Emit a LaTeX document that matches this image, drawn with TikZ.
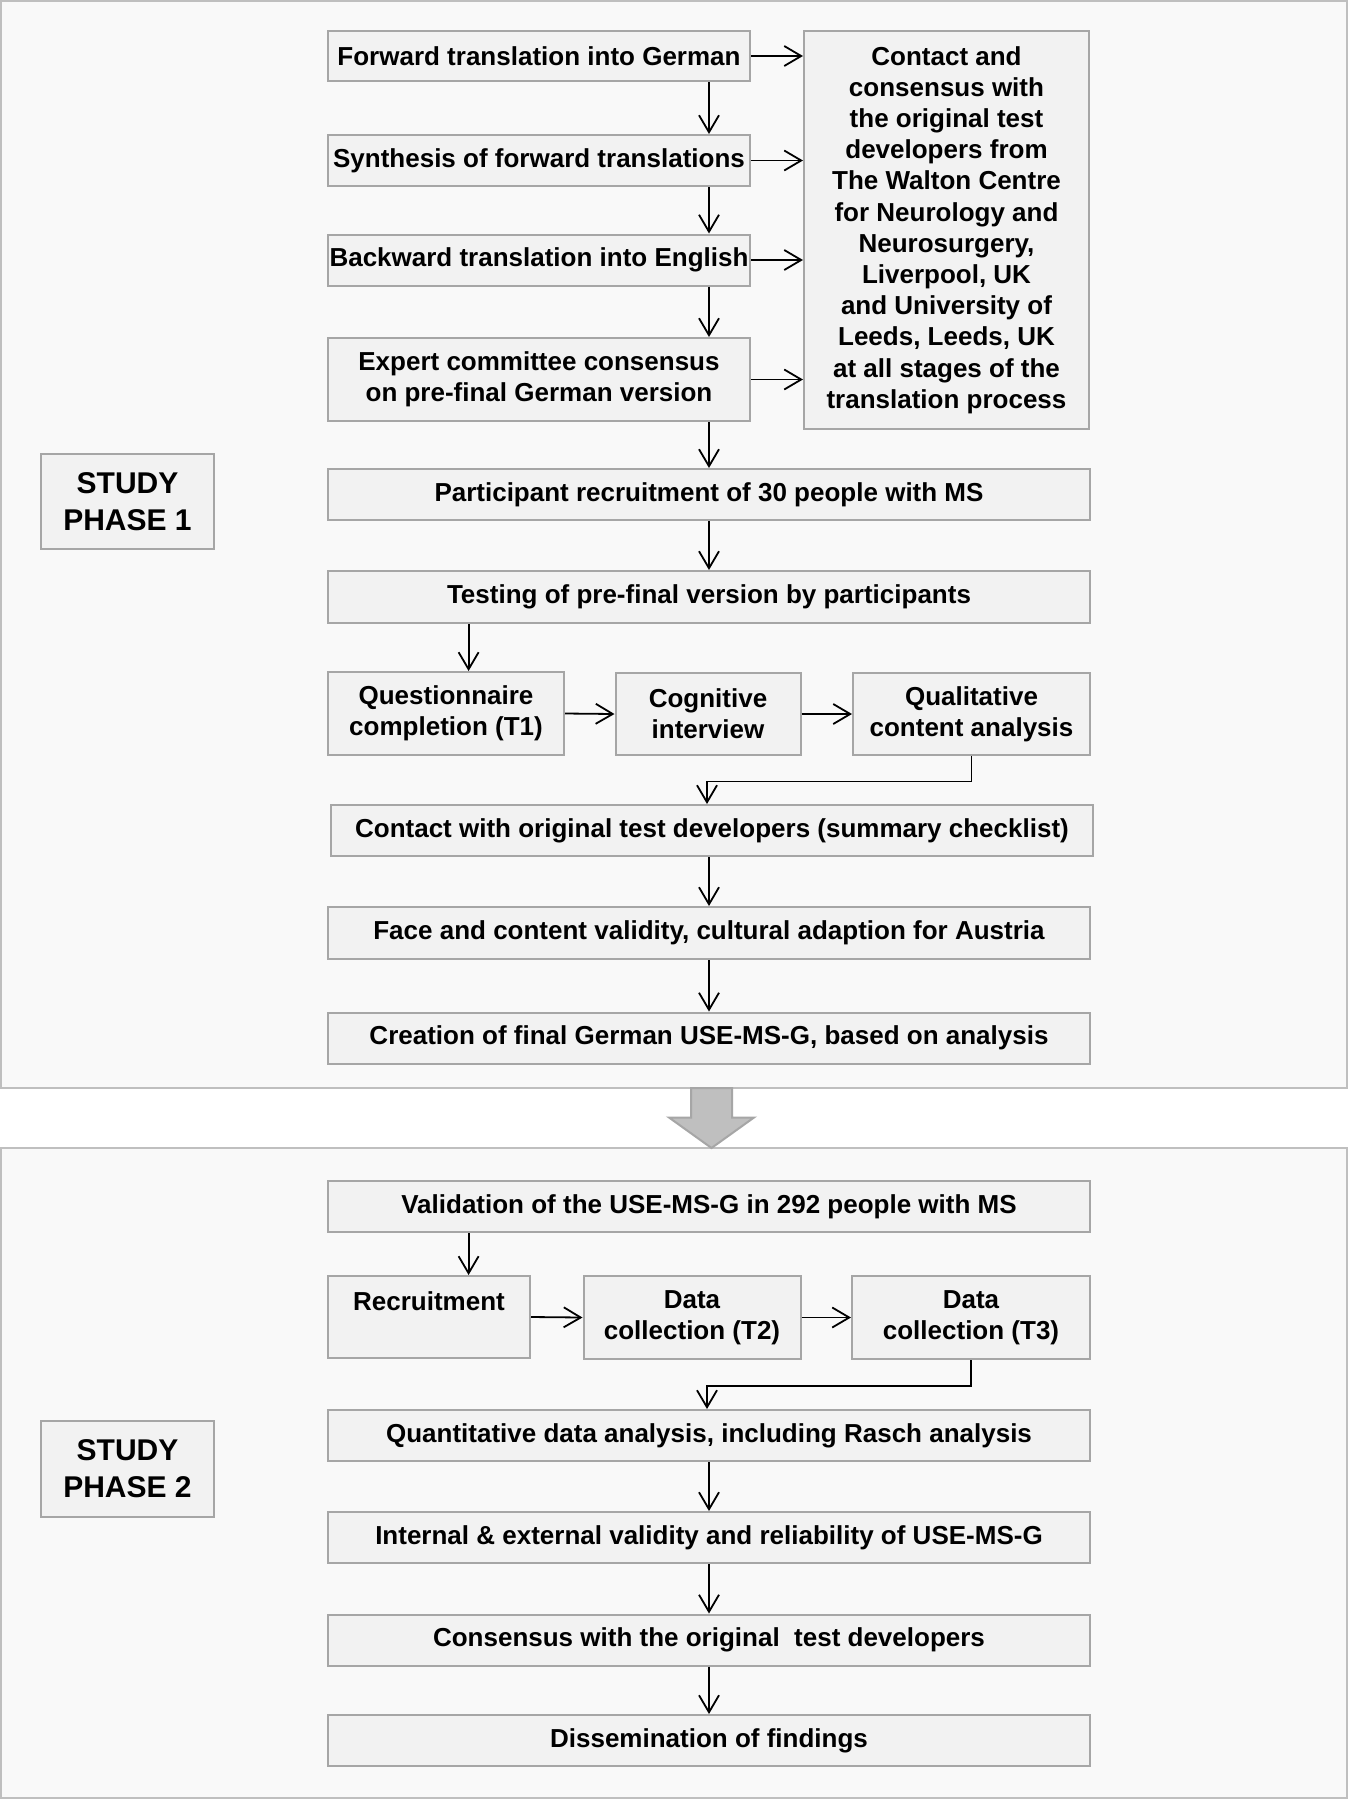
\documentclass[tikz,border=0pt]{standalone}
\usepackage{fontspec}
\setmainfont{Liberation Sans}
\usetikzlibrary{arrows.meta,calc}
\definecolor{panelfill}{HTML}{F9F9F9}
\definecolor{panelline}{HTML}{BFBFBF}
\definecolor{boxfill}{HTML}{F2F2F2}
\definecolor{boxline}{HTML}{A6A6A6}
\definecolor{bigarrow}{HTML}{BFBFBF}
\begin{document}
\begin{tikzpicture}[x=1pt,y=-1pt,
  panel/.style={draw=panelline,fill=panelfill,line width=2pt},
  stepbox/.style={draw=boxline,fill=boxfill,line width=2pt,inner sep=0pt,align=center,
    font=\fontsize{26}{31.2}\selectfont\bfseries},
  phasebox/.style={stepbox,font=\fontsize{30}{37}\selectfont\bfseries},
  arr/.style={draw=black,line width=1.8pt,-{Straight Barb[length=17pt,width=20pt,line width=1.8pt]}}]
\useasboundingbox[fill=white] (0,0) rectangle (1348,1800);
% panels
\draw[panel] (1,1) rectangle (1347,1088);
\draw[panel] (1,1148) rectangle (1347,1798);
% big arrow between panels
\draw[fill=bigarrow,draw=boxline,line width=2pt,line join=miter]
  (691,1088) -- (732,1088) -- (732,1117.5) -- (754,1117.5) -- (711.5,1148) -- (669,1117.5) -- (691,1117.5) -- cycle;
% phase 1
\node[stepbox,minimum width=422,minimum height=50] (fwd) at (539,56) {Forward translation into German};
\node[stepbox,minimum width=422,minimum height=51] (syn) at (539,160.5) {Synthesis of forward translations};
\node[stepbox,minimum width=422,minimum height=51] (back) at (539,260) {Backward translation into English};
\node[stepbox,minimum width=422,minimum height=83] (exp) at (539,379.5) {Expert committee consensus\\on pre-final German version};
\node[stepbox,minimum width=285,minimum height=398] (cont) at (946.5,230) {Contact and\\consensus with\\the original test\\developers from\\The Walton Centre\\for Neurology and\\Neurosurgery,\\Liverpool, UK\\and University of\\Leeds, Leeds, UK\\at all stages of the\\translation process};
\node[phasebox,minimum width=173,minimum height=95] (ph1) at (127.5,501.5) {STUDY\\PHASE 1};
\node[stepbox,minimum width=762,minimum height=51] (part) at (709,494.5) {Participant recruitment of 30 people with MS};
\node[stepbox,minimum width=762,minimum height=52] (test) at (709,597) {Testing of pre-final version by participants};
\node[stepbox,minimum width=236,minimum height=83] (quest) at (446,713.5) {Questionnaire\\completion (T1)};
\node[stepbox,minimum width=185,minimum height=82] (cog) at (708,714) {Cognitive\\interview};
\node[stepbox,minimum width=237,minimum height=82] (qual) at (971.5,714) {Qualitative\\content analysis};
\node[stepbox,minimum width=762,minimum height=51] (cdev) at (712,830.5) {Contact with original test developers (summary checklist)};
\node[stepbox,minimum width=762,minimum height=52] (face) at (709,933) {Face and content validity, cultural adaption for Austria};
\node[stepbox,minimum width=762,minimum height=51] (crea) at (709,1038) {Creation of final German USE-MS-G, based on analysis};
% phase 2
\node[stepbox,minimum width=762,minimum height=51] (valid) at (709,1206.5) {Validation of the USE-MS-G in 292 people with MS};
\node[stepbox,minimum width=202,minimum height=82] (recr) at (429,1317) {Recruitment\\\mbox{}};
\node[stepbox,minimum width=217,minimum height=83] (dt2) at (692,1317.5) {Data\\collection (T2)};
\node[stepbox,minimum width=238,minimum height=83] (dt3) at (971,1317.5) {Data\\collection (T3)};
\node[phasebox,minimum width=173,minimum height=96] (ph2) at (127.5,1469) {STUDY\\PHASE 2};
\node[stepbox,minimum width=762,minimum height=51] (quant) at (709,1435.5) {Quantitative data analysis, including Rasch analysis};
\node[stepbox,minimum width=762,minimum height=51] (intern) at (709,1537.5) {Internal \& external validity and reliability of USE-MS-G};
\node[stepbox,minimum width=762,minimum height=51] (cons) at (709,1640) {Consensus with the original~ test developers};
\node[stepbox,minimum width=762,minimum height=51] (diss) at (709,1740.5) {Dissemination of findings};
% coordinates for off-centre connectors
\coordinate (q1) at ([xshift=22.6]quest.north);
\coordinate (r1) at ([xshift=39.6]recr.north);
\coordinate (c1) at ([xshift=-5]cdev.north);
\coordinate (c2) at ([xshift=-2]quant.north);
% connectors phase 1
\draw[arr] (fwd.south -| part.north) -- (syn.north -| part.north);
\draw[arr] (syn.south -| part.north) -- (back.north -| part.north);
\draw[arr] (back.south -| part.north) -- (exp.north -| part.north);
\draw[arr] (exp.south -| part.north) -- (part.north);
\draw[arr] (fwd.east) -- (fwd.east -| cont.west);
\draw[arr] (syn.east) -- (syn.east -| cont.west);
\draw[arr] (back.east) -- (back.east -| cont.west);
\draw[arr] (exp.east) -- (exp.east -| cont.west);
\draw[arr] (part.south) -- (test.north);
\draw[arr] (test.south -| q1) -- (q1);
\draw[arr] (quest.east) -- (cog.west);
\draw[arr] (cog.east) -- (qual.west);
\draw[arr] (qual.south) -- ++(0,25.5) -| (c1);
\draw[arr] (cdev.south -| face.north) -- (face.north);
\draw[arr] (face.south) -- (crea.north);
% connectors phase 2
\draw[arr] (valid.south -| r1) -- (r1);
\draw[arr] (recr.east) -- (dt2.west);
\draw[arr] (dt2.east) -- (dt3.west);
\draw[arr] (dt3.south) -- ++(0,26) -| (c2);
\draw[arr] (quant.south) -- (intern.north);
\draw[arr] (intern.south) -- (cons.north);
\draw[arr] (cons.south) -- (diss.north);
\end{tikzpicture}
\end{document}
